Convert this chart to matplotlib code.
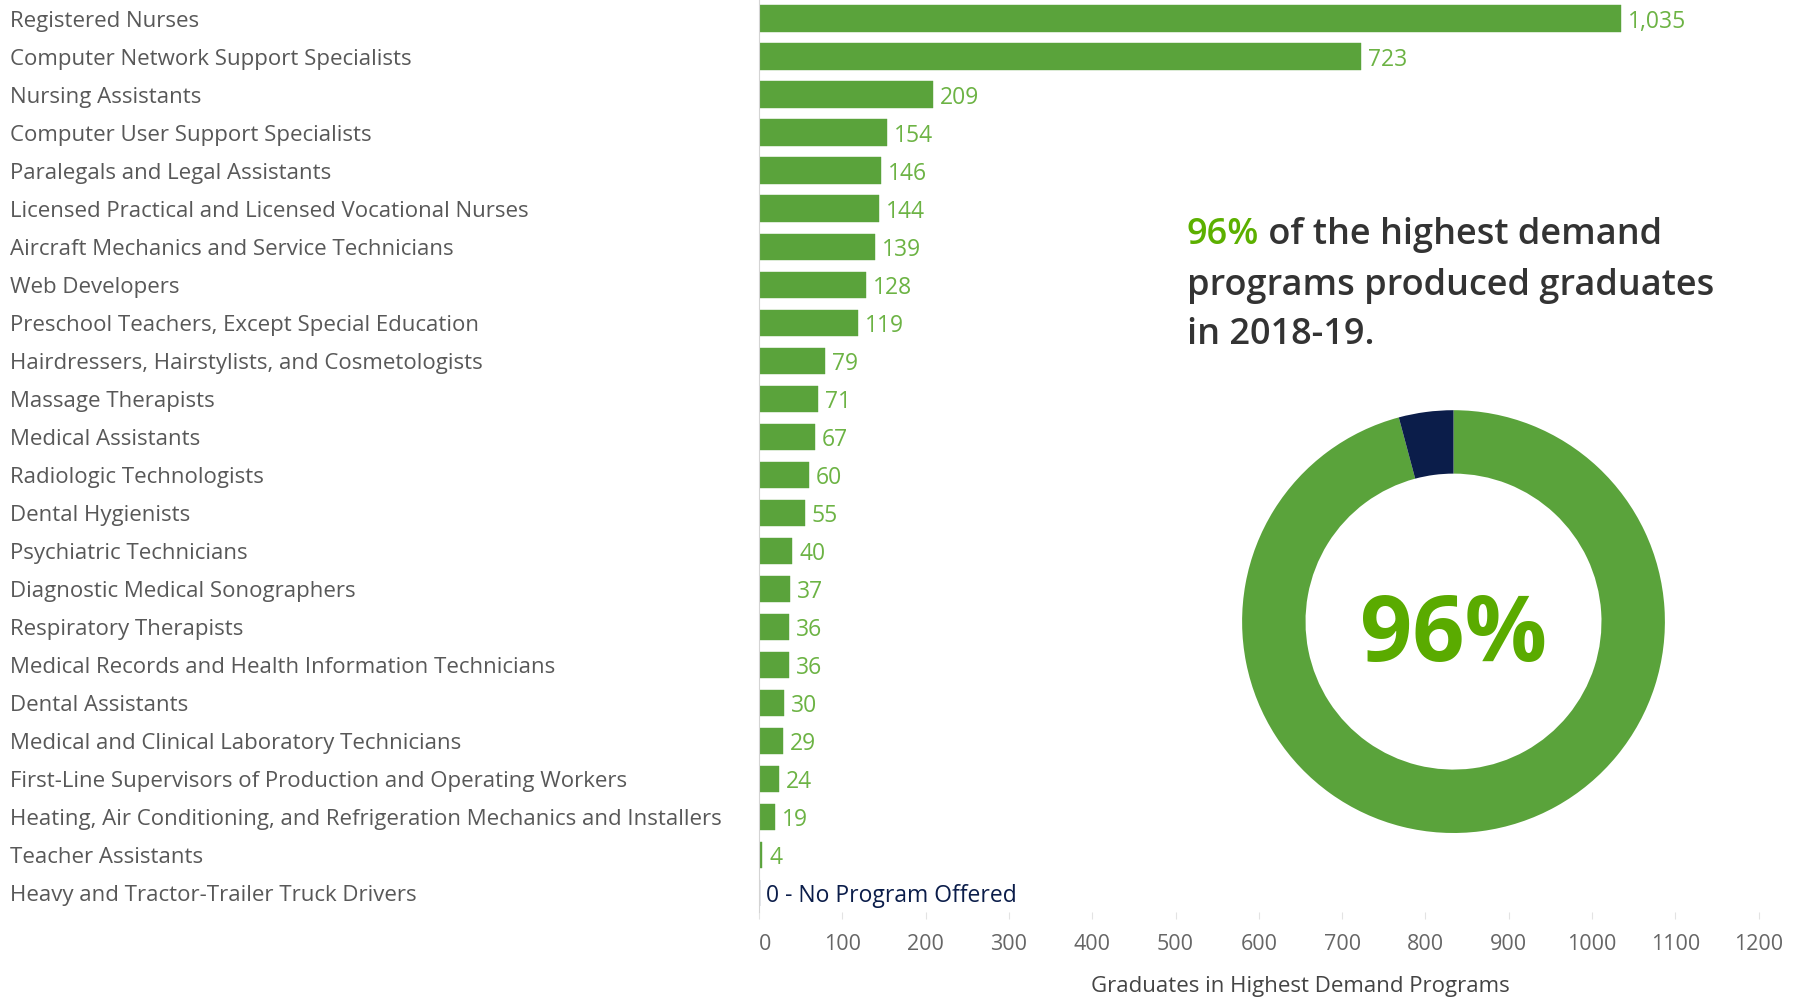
import numpy as np
import matplotlib.pyplot as plt
from matplotlib.transforms import blended_transform_factory

programs = ['Registered Nurses',
            'Computer Network Support Specialists',
            'Nursing Assistants',
            'Computer User Support Specialists',
            'Paralegals and Legal Assistants',
            'Licensed Practical and Licensed Vocational Nurses',
            'Aircraft Mechanics and Service Technicians',
            'Web Developers',
            'Preschool Teachers, Except Special Education',
            'Hairdressers, Hairstylists, and Cosmetologists',
            'Massage Therapists',
            'Medical Assistants',
            'Radiologic Technologists',
            'Dental Hygienists',
            'Psychiatric Technicians',
            'Diagnostic Medical Sonographers',
            'Respiratory Therapists',
            'Medical Records and Health Information Technicians',
            'Dental Assistants',
            'Medical and Clinical Laboratory Technicians',
            'First-Line Supervisors of Production and Operating Workers',
            'Heating, Air Conditioning, and Refrigeration Mechanics and Installers',
            'Teacher Assistants',
            'Heavy and Tractor-Trailer Truck Drivers']
graduates = [1035, 723, 209, 154, 146, 144, 139, 128, 119, 79, 71, 67,
             60, 55, 40, 37, 36, 36, 30, 29, 24, 19, 4, 0]
x_ticks = [0, 100, 200, 300, 400, 500, 600, 700, 800, 900, 1000, 1100, 1200]

green = '#5aa33b'
label_green = '#6cb344'
navy = '#0b1d4a'
W, H = 1802, 997
FONT = ['Open Sans', 'DejaVu Sans']

fig = plt.figure(figsize=(W / 100, H / 100), dpi=100)

# bar chart
ax = fig.add_axes([759 / W, 85 / H, 1 - 759 / W, 912.5 / H])
y = np.arange(len(programs))
grads = np.array(graduates)
colors = [green if g > 0 else navy for g in grads]
ax.barh(y, grads, height=0.69, color=colors, edgecolor=colors,
        linewidth=[0.3 if g > 0 else 1.6 for g in grads])
ax.set_xlim(0, 1252)
ax.set_ylim(len(programs) - 0.5, -0.5)

for spine in ['top', 'right', 'bottom']:
    ax.spines[spine].set_visible(False)
ax.spines['left'].set_color('#d4d4d4')
ax.set_yticks([])
ax.set_xticks(x_ticks)
ax.tick_params(axis='x', length=5, color='#e3e3e3', labelcolor='#666666',
               labelsize=15.5, pad=11)
for t in ax.get_xticklabels():
    t.set_family(FONT)
ax.get_xticklabels()[0].set_ha('left')
ax.set_xlabel('Graduates in Highest Demand Programs', fontsize=16,
              color='#444444', family=FONT)
ax.xaxis.set_label_coords((1300 - 759) / (W - 759), -0.070)

# program names on the far left
lbl_tr = blended_transform_factory(fig.transFigure, ax.transData)
for i, name in enumerate(programs):
    ax.text(10 / W, i, name, transform=lbl_tr, ha='left',
            va='center_baseline', fontsize=16, color='#585858', family=FONT)

# value labels
for i, g in enumerate(grads):
    if g > 0:
        txt, col = f'{g:,}', label_green
    else:
        txt, col = '0 - No Program Offered', navy
    ax.annotate(txt, (g, i), xytext=(5, 0), textcoords='offset points',
                ha='left', va='center_baseline', fontsize=16.5, color=col,
                family=FONT)

# share of programs with graduates
share = np.mean(grads > 0)
pct = f'{share:.0%}'

r = 211.4
cx, cy = 1453.5, 621.6
dax = fig.add_axes([(cx - r) / W, 1 - (cy + r) / H, 2 * r / W, 2 * r / H])
dax.pie([share, 1 - share], colors=[green, navy], startangle=90,
        counterclock=False, radius=1,
        wedgeprops=dict(width=0.30, linewidth=0))
dax.set_xlim(-1, 1)
dax.set_ylim(-1, 1)
dax.set_aspect('equal')
dax.axis('off')
dax.text(0, -0.075, pct, ha='center', va='center', fontsize=66,
         fontweight='bold', color='#5aab00', family=FONT)

# headline text
tx = 1187 / W
head_kw = dict(fontsize=26, color='#333333', va='center',
               family=FONT, fontweight='semibold')
t1 = fig.text(tx, 1 - 235 / H, pct, **{**head_kw, 'color': '#5cb000'})
ax.annotate(' of the highest demand', xy=(1, 0.5), xycoords=t1,
            ha='left', **head_kw)
fig.text(tx, 1 - 285.5 / H, 'programs produced graduates', **head_kw)
fig.text(tx, 1 - 335 / H, 'in 2018-19.', **head_kw)

fig.savefig('out.png', dpi=100)
